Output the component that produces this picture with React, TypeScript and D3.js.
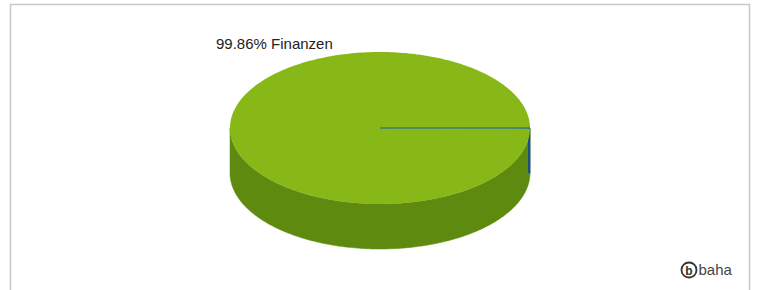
import { useEffect, useRef } from 'react';
import * as d3 from 'd3';

const categories = ['Finanzen', 'Sonstige'];
const shares = [99.86, 0.14];
const labels = ['99.86% Finanzen'];

const topColors = ['#87b818', '#1f5a96'];
const sideColors = ['#5f8a10', '#1d4f86'];

export default function App() {
  const svgRef = useRef<SVGSVGElement>(null);
  const width = 758;
  const height = 290;

  useEffect(() => {
    if (!svgRef.current) return;
    const svg = d3.select(svgRef.current);
    svg.selectAll('*').remove();

    // frame
    svg.append('rect')
      .attr('x', 10.5)
      .attr('y', 4.5)
      .attr('width', 739)
      .attr('height', 300)
      .attr('fill', '#fff')
      .attr('stroke', '#c6c6c6')
      .attr('stroke-width', 1.5);

    const cx = 380;
    const cy = 128;
    const rx = 150;
    const ry = 76;
    const depth = 45;

    const xs = d3.scaleLinear().domain([-1, 1]).range([cx - rx, cx + rx]);
    const ys = d3.scaleLinear().domain([-1, 1]).range([cy - ry, cy + ry]);

    // screen angle: 0 = east, increasing clockwise (downwards)
    const data = categories.map((c, i) => ({ c, v: shares[i], i }));
    const pie = d3.pie<{ c: string; v: number; i: number }>()
      .value(d => d.v)
      .sort(null)
      .startAngle(0)
      .endAngle(2 * Math.PI);
    // small slice first at east, going downward
    const arcs = pie([data[1], data[0]]);

    const px = (a: number) => xs(Math.cos(a));
    const py = (a: number, dy = 0) => ys(Math.sin(a)) + dy;

    const arcPts = (a0: number, a1: number, dy = 0) => {
      const n = Math.max(2, Math.ceil(Math.abs(a1 - a0) / 0.02));
      return d3.range(n + 1).map(k => {
        const a = a0 + (a1 - a0) * k / n;
        return [px(a), py(a, dy)] as [number, number];
      });
    };
    const line = d3.line();

    const gSide = svg.append('g');
    const gTop = svg.append('g');

    arcs.forEach(a => {
      const i = a.data.i;
      // front side part: angles within [0, PI]
      const s0 = Math.max(a.startAngle, 0);
      const s1 = Math.min(a.endAngle, Math.PI);
      if (s1 > s0) {
        const top = arcPts(s0, s1);
        const bottom = arcPts(s1, s0, depth);
        gSide.append('path')
          .attr('d', line([...top, ...bottom]) + 'Z')
          .attr('fill', sideColors[i])
          .attr('stroke', sideColors[i])
          .attr('stroke-width', 0.5);
      }
      const pts = arcPts(a.startAngle, a.endAngle);
      gTop.append('path')
        .attr('d', line([[cx, cy], ...pts]) + 'Z')
        .attr('fill', topColors[i]);
    });

    // side of the small slice, seen edge-on
    const small = arcs.find(a => a.data.i === 1)!;
    gSide.append('line')
      .attr('x1', px(small.startAngle) - 1)
      .attr('y1', py(small.startAngle))
      .attr('x2', px(small.startAngle) - 1)
      .attr('y2', py(small.startAngle, depth))
      .attr('stroke', sideColors[1])
      .attr('stroke-width', 2);

    // slice edge
    gTop.append('line')
      .attr('x1', cx)
      .attr('y1', cy)
      .attr('x2', px(0))
      .attr('y2', py(0))
      .attr('stroke', '#3a7f6e')
      .attr('stroke-width', 1.3);

    svg.append('text')
      .attr('x', 216)
      .attr('y', 49)
      .attr('font-family', 'Liberation Sans, Arial, sans-serif')
      .attr('font-size', '15px')
      .attr('fill', '#222')
      .text(labels[0]);

    // logo
    const logo = svg.append('g').attr('transform', 'translate(689, 270)');
    logo.append('circle')
      .attr('r', 7.5)
      .attr('fill', '#fff')
      .attr('stroke', '#333')
      .attr('stroke-width', 1.8);
    logo.append('text')
      .attr('x', 0)
      .attr('y', 4.5)
      .attr('text-anchor', 'middle')
      .attr('font-family', 'Liberation Sans, Arial, sans-serif')
      .attr('font-weight', 'bold')
      .attr('font-size', '12px')
      .attr('fill', '#333')
      .text('b');
    logo.append('text')
      .attr('x', 9.5)
      .attr('y', 5)
      .attr('font-family', 'Liberation Sans, Arial, sans-serif')
      .attr('font-size', '15px')
      .attr('fill', '#444')
      .text('baha');
  }, []);

  return (
    <div style={{ position: 'absolute', left: 0, top: 0 }}>
      <svg ref={svgRef} width={width} height={height} style={{ display: 'block' }} />
    </div>
  );
}
